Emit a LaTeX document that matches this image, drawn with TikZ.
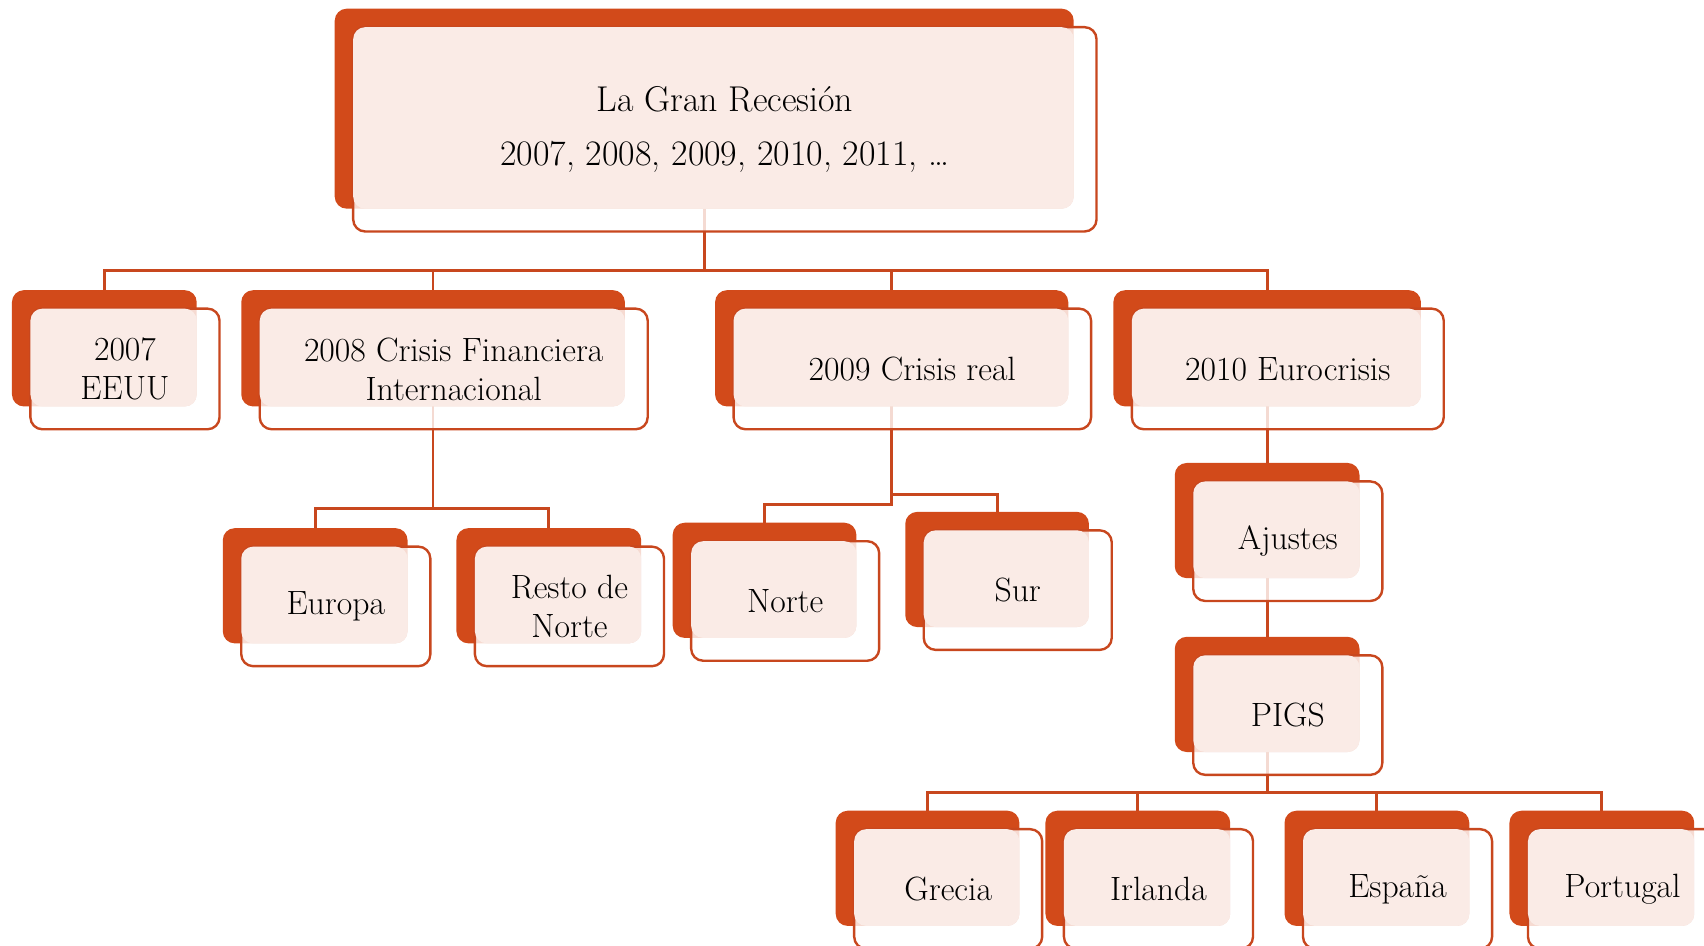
\documentclass[tikz,border=0pt]{standalone}
\usetikzlibrary{calc,backgrounds}
\definecolor{oback}{HTML}{D24A1A}
\definecolor{oline}{HTML}{C8471E}
\definecolor{pinkf}{HTML}{FAEBE6}
\tikzset{
  backbox/.style={draw=none, fill=oback, rounded corners=11pt, inner sep=0pt, outer sep=0pt},
  frontbox/.style={draw=oline, line width=2.2pt, fill=white, fill opacity=0.8, rounded corners=11pt, inner sep=0pt, outer sep=0pt},
  pinkpart/.style={fill=pinkf, rounded corners=11pt},
  conn/.style={draw=oline, line width=2.6pt},
  lbl/.style={align=center, font=\fontsize{31}{36}\selectfont, text=black, inner sep=0pt},
  rootlbl/.style={align=center, font=\fontsize{33}{40}\selectfont, text=black, inner sep=0pt}
}
% name, cx, cy (y down), w, h, text
\newcommand\orgbox[7][lbl]{%
  \node[backbox, minimum width=#5pt, minimum height=#6pt] (#2) at (#3,-#4) {};
  \node[frontbox, minimum width=#5pt+4pt, minimum height=#6pt+4pt] (#2f) at ($(#2)+(19,-19)$) {};
  \fill[pinkpart] (#2f.north west) rectangle (#2.south east);
  \node[#1] (#2t) at (#2f) {#7};
}
\begin{document}
\begin{tikzpicture}[x=1pt,y=1pt]
\useasboundingbox (0,0) rectangle (1568,-870);
\clip (0,0) rectangle (1568,-870);

\orgbox[rootlbl]{root}{648}{100}{680}{184}{La Gran Recesión\\[9pt]2007, 2008, 2009, 2010, 2011, \ldots}
\orgbox{eeuu}{96}{320.5}{170}{107}{2007\\EEUU}
\orgbox{fin}{398.5}{320.5}{353}{107}{2008 Crisis Financiera\\Internacional}
\orgbox{real}{820.5}{320.5}{325}{107}{2009 Crisis real}
\orgbox{euro}{1166}{320.5}{283}{107}{2010 Eurocrisis}
\orgbox{europa}{290}{539}{170}{106}{Europa}
\orgbox{resto}{505}{539}{170}{106}{Resto de\\Norte}
\orgbox{norte}{703.5}{534}{169}{106}{Norte}
\orgbox{sur}{917.5}{524}{169}{106}{Sur}
\orgbox{ajustes}{1166}{479}{170}{106}{Ajustes}
\orgbox{pigs}{1166}{639}{170}{106}{PIGS}
\orgbox{grecia}{853.5}{799}{169}{106}{Grecia}
\orgbox{irlanda}{1047}{799}{170}{106}{Irlanda}
\orgbox{espana}{1267}{799}{170}{106}{España}
\orgbox{portugal}{1474}{799}{170}{106}{Portugal}

\coordinate (b1) at (0,-249);
\coordinate (b2) at (0,-468);
\coordinate (b3) at (0,-464);
\coordinate (b4) at (0,-455);
\coordinate (b5) at (0,-729);

\begin{scope}[on background layer]
  \draw[conn] (root.south) -- (root.south |- b1);
  \foreach \c in {eeuu,fin,real,euro} \draw[conn] (\c.north) |- (root.south |- b1);
  \draw[conn] (fin.south) -- (fin.south |- b2);
  \foreach \c in {europa,resto} \draw[conn] (\c.north) |- (fin.south |- b2);
  \draw[conn] (real.south) |- (norte.north |- b3) -- (norte.north);
  \draw[conn] (real.south |- b4) -| (sur.north);
  \draw[conn] (euro.south) -- (ajustes.north);
  \draw[conn] (ajustes.south) -- (pigs.north);
  \draw[conn] (pigs.south) -- (pigs.south |- b5);
  \foreach \c in {grecia,irlanda,espana,portugal} \draw[conn] (\c.north) |- (pigs.south |- b5);
\end{scope}
\end{tikzpicture}
\end{document}
